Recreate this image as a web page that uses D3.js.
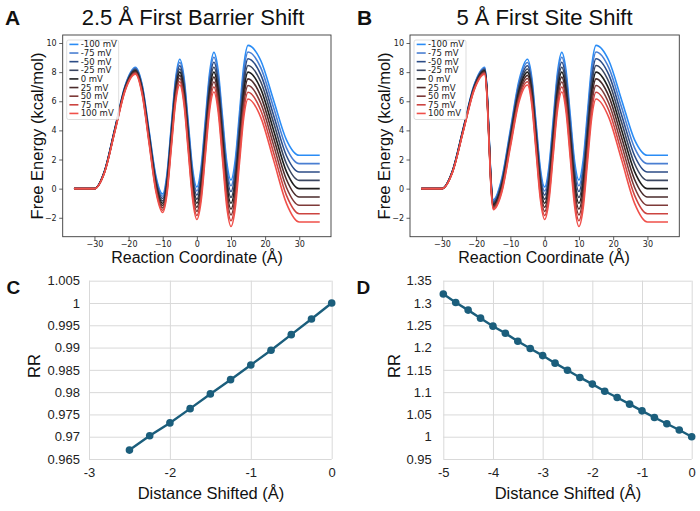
<!DOCTYPE html>
<html><head><meta charset="utf-8">
<script src="https://cdn.jsdelivr.net/npm/d3@7"></script>
<style>body{margin:0;background:#fff}</style></head>
<body><svg id="chart" width="700" height="511"></svg>
<script>
// ---------- data ----------
const voltages = ["-100 mV","-75 mV","-50 mV","-25 mV","0 mV","25 mV","50 mV","75 mV","100 mV"];
const voltageColors = ["#2a8cf5","#4a7fd2","#2c4c86","#3a4660","#1e1e1e","#4a2b2b","#7e3a38","#cc4440","#f0504a"];

const energyTicks = [-2,0,2,4,6,8,10];
const coordTicks = [-30,-20,-10,0,10,20,30];

// Panel A: 2.5 Å first barrier shift
const coordA = [-36,-30,-27,-24,-21,-18,-16,-14,-12,-10,-8.75,-7.5,-6.25,-5,-3.75,-2.5,-1.25,0,1.25,2.5,3.75,5,6.25,7.5,8.75,10,11.25,12.5,13.75,15,18.75,22.5,26.25,30,36];
const barrierM100 = [0,0,1.25,4.17,7.09,8.34,7.11,3.99,0.87,-0.36,1.02,4.26,7.50,8.88,7.62,4.50,1.38,0.12,1.50,4.74,7.98,9.36,8.10,4.98,1.86,0.60,1.98,5.22,8.46,9.84,8.78,6.06,3.35,2.29,2.29];
const barrierM75 = [0,0,1.24,4.14,7.05,8.28,7.03,3.88,0.74,-0.52,0.85,4.07,7.30,8.66,7.39,4.25,1.12,-0.16,1.21,4.43,7.66,9.02,7.75,4.61,1.48,0.20,1.57,4.79,8.02,9.38,8.29,5.55,2.80,1.72,1.72];
const barrierM50 = [0,0,1.22,4.11,7.00,8.22,6.94,3.77,0.60,-0.68,0.67,3.88,7.09,8.44,7.15,4.00,0.85,-0.44,0.91,4.12,7.33,8.68,7.39,4.24,1.09,-0.20,1.15,4.36,7.57,8.92,7.81,5.03,2.26,1.14,1.14];
const barrierM25 = [0,0,1.21,4.08,6.96,8.16,6.86,3.66,0.47,-0.84,0.50,3.69,6.89,8.22,6.92,3.75,0.59,-0.72,0.62,3.81,7.01,8.34,7.04,3.87,0.71,-0.60,0.74,3.93,7.13,8.46,7.32,4.52,1.71,0.57,0.57];
const barrier0 = [0,0,1.19,4.05,6.91,8.10,6.77,3.55,0.33,-1.00,0.32,3.50,6.68,8.00,6.68,3.50,0.32,-1.00,0.32,3.50,6.68,8.00,6.68,3.50,0.32,-1.00,0.32,3.50,6.68,8.00,6.83,4.00,1.17,0,0];
const barrierP25 = [0,0,1.18,4.02,6.87,8.04,6.69,3.44,0.20,-1.16,0.15,3.31,6.48,7.78,6.45,3.25,0.06,-1.28,0.03,3.19,6.36,7.66,6.33,3.13,-0.07,-1.40,-0.10,3.07,6.24,7.54,6.34,3.48,0.63,-0.57,-0.57];
const barrierP50 = [0,0,1.16,3.99,6.82,7.98,6.60,3.33,0.06,-1.32,-0.03,3.12,6.27,7.56,6.21,3.00,-0.21,-1.56,-0.27,2.88,6.03,7.32,5.97,2.76,-0.45,-1.80,-0.51,2.64,5.79,7.08,5.85,2.97,0.08,-1.14,-1.14];
const barrierP75 = [0,0,1.15,3.96,6.78,7.92,6.52,3.22,-0.08,-1.48,-0.21,2.93,6.07,7.34,5.98,2.75,-0.48,-1.84,-0.57,2.57,5.71,6.98,5.62,2.39,-0.84,-2.20,-0.93,2.21,5.35,6.62,5.37,2.45,-0.46,-1.72,-1.72];
const barrierP100 = [0,0,1.13,3.93,6.73,7.86,6.43,3.11,-0.21,-1.64,-0.38,2.74,5.86,7.12,5.74,2.50,-0.74,-2.12,-0.86,2.26,5.38,6.64,5.26,2.02,-1.22,-2.60,-1.34,1.78,4.90,6.16,4.88,1.94,-1.01,-2.29,-2.29];

// Panel B: 5 Å first site shift
const coordB = [-36,-30,-26.875,-23.75,-20.625,-17.5,-16.875,-16.25,-15.625,-15,-12.5,-10,-7.5,-5,-3.75,-2.5,-1.25,0,1.25,2.5,3.75,5,6.25,7.5,8.75,10,11.25,12.5,13.75,15,18.75,22.5,26.25,30,36];
const siteM100 = [0,0,1.25,4.17,7.09,8.34,7.01,3.79,0.56,-0.76,0.71,4.05,7.41,8.88,7.62,4.50,1.38,0.12,1.50,4.74,7.98,9.36,8.10,4.98,1.86,0.60,1.98,5.22,8.46,9.84,8.78,6.06,3.35,2.29,2.29];
const siteM75 = [0,0,1.24,4.14,7.05,8.28,6.95,3.72,0.48,-0.85,0.59,3.90,7.23,8.66,7.39,4.25,1.12,-0.16,1.21,4.43,7.66,9.02,7.75,4.61,1.48,0.20,1.57,4.79,8.02,9.38,8.29,5.55,2.80,1.72,1.72];
const siteM50 = [0,0,1.22,4.11,7.00,8.22,6.88,3.64,0.41,-0.93,0.47,3.75,7.04,8.44,7.15,4.00,0.85,-0.44,0.91,4.12,7.33,8.68,7.39,4.24,1.09,-0.20,1.15,4.36,7.57,8.92,7.81,5.03,2.26,1.14,1.14];
const siteM25 = [0,0,1.21,4.08,6.96,8.16,6.82,3.57,0.33,-1.02,0.35,3.60,6.86,8.22,6.92,3.75,0.59,-0.72,0.62,3.81,7.01,8.34,7.04,3.87,0.71,-0.60,0.74,3.93,7.13,8.46,7.32,4.52,1.71,0.57,0.57];
const site0 = [0,0,1.19,4.05,6.91,8.10,6.75,3.50,0.25,-1.10,0.23,3.45,6.67,8.00,6.68,3.50,0.32,-1.00,0.32,3.50,6.68,8.00,6.68,3.50,0.32,-1.00,0.32,3.50,6.68,8.00,6.83,4.00,1.17,0,0];
const siteP25 = [0,0,1.18,4.02,6.87,8.04,6.68,3.43,0.17,-1.19,0.11,3.30,6.49,7.78,6.45,3.25,0.06,-1.28,0.03,3.19,6.36,7.66,6.33,3.13,-0.07,-1.40,-0.10,3.07,6.24,7.54,6.34,3.48,0.63,-0.57,-0.57];
const siteP50 = [0,0,1.16,3.99,6.82,7.98,6.62,3.36,0.09,-1.27,-0.01,3.15,6.30,7.56,6.21,3.00,-0.21,-1.56,-0.27,2.88,6.03,7.32,5.97,2.76,-0.45,-1.80,-0.51,2.64,5.79,7.08,5.85,2.97,0.08,-1.14,-1.14];
const siteP75 = [0,0,1.15,3.96,6.78,7.92,6.55,3.28,0.02,-1.36,-0.13,3.00,6.12,7.34,5.98,2.75,-0.48,-1.84,-0.57,2.57,5.71,6.98,5.62,2.39,-0.84,-2.20,-0.93,2.21,5.35,6.62,5.37,2.45,-0.46,-1.72,-1.72];
const siteP100 = [0,0,1.13,3.93,6.73,7.86,6.49,3.21,-0.06,-1.44,-0.25,2.85,5.93,7.12,5.74,2.50,-0.74,-2.12,-0.86,2.26,5.38,6.64,5.26,2.02,-1.22,-2.60,-1.34,1.78,4.90,6.16,4.88,1.94,-1.01,-2.29,-2.29];

// Panel C
const shiftC = [-2.5,-2.25,-2,-1.75,-1.5,-1.25,-1,-0.75,-0.5,-0.25,0];
const rrC = [0.9670,0.9702,0.9731,0.9763,0.9796,0.9828,0.9861,0.9894,0.9929,0.9964,1.0];
const shiftTicksC = [-3,-2,-1,0];
const rrTicksC = [0.965,0.97,0.975,0.98,0.985,0.99,0.995,1,1.005];

// Panel D
const shiftD = [-5,-4.75,-4.5,-4.25,-4,-3.75,-3.5,-3.25,-3,-2.75,-2.5,-2.25,-2,-1.75,-1.5,-1.25,-1,-0.75,-0.5,-0.25,0];
const rrD = [1.320,1.301,1.284,1.266,1.248,1.232,1.214,1.198,1.182,1.165,1.149,1.133,1.118,1.102,1.088,1.073,1.058,1.043,1.029,1.015,1.0];
const shiftTicksD = [-5,-4,-3,-2,-1,0];
const rrTicksD = [0.95,1,1.05,1.1,1.15,1.2,1.25,1.3,1.35];

// ---------- drawing ----------
const svg = d3.select("#chart");
svg.append("rect").attr("width",700).attr("height",511).attr("fill","#fff");
const SANS = "'Liberation Sans', Arial, Helvetica, sans-serif";
const MPL = "'DejaVu Sans', sans-serif";

function energyPanel(opt) {
  const {x0, x1, coords, series, title, titleX, letter, letterX, ylabX, xlabX} = opt;
  const top = 35, bottom = 236.7;
  const x = d3.scaleLinear().domain([-39.3, 39.3]).range([x0, x1]);
  const y = d3.scaleLinear().domain([-3.3, 10.55]).range([bottom, top]);
  const g = svg.append("g");
  const line = d3.line().x((d,i) => x(coords[i])).y(d => y(d)).curve(d3.curveMonotoneX);
  series.forEach((s,k) => {
    g.append("path").attr("d", line(s)).attr("fill","none")
      .attr("stroke", voltageColors[k]).attr("stroke-width",1.6);
  });
  g.append("rect").attr("x",x0).attr("y",top).attr("width",x1-x0).attr("height",bottom-top)
    .attr("fill","none").attr("stroke","#3a3a3a").attr("stroke-width",0.9);
  const fmt = d => d < 0 ? "\u2212" + Math.abs(d) : String(d);
  const ax = g.append("g").attr("transform",`translate(0,${bottom})`)
    .call(d3.axisBottom(x).tickValues(coordTicks).tickSize(3.5).tickPadding(1.5).tickFormat(fmt));
  const ay = g.append("g").attr("transform",`translate(${x0},0)`)
    .call(d3.axisLeft(y).tickValues(energyTicks).tickSize(3.5).tickPadding(2.5).tickFormat(fmt));
  [ax, ay].forEach(a => {
    a.select(".domain").remove();
    a.selectAll("line").attr("stroke","#3a3a3a").attr("stroke-width",0.8);
    a.selectAll("text").attr("font-family",MPL).attr("font-size",8).attr("fill","#222");
  });
  // legend
  const lg = g.append("g");
  const lx = x0 + 4, ly = 40;
  lg.append("rect").attr("x",lx).attr("y",ly).attr("width",52).attr("height",79.5).attr("rx",2)
    .attr("fill","#fff").attr("fill-opacity",0.85).attr("stroke","#d4d4d4").attr("stroke-width",0.8);
  voltages.forEach((v,k) => {
    const yy = 44.4 + k*8.63;
    lg.append("line").attr("x1",lx+2.7).attr("x2",lx+11.7).attr("y1",yy).attr("y2",yy)
      .attr("stroke",voltageColors[k]).attr("stroke-width",1.6);
    lg.append("text").attr("x",lx+14).attr("y",yy).attr("dy","0.35em")
      .attr("font-family",MPL).attr("font-size",8.5).attr("fill","#222").text(v);
  });
  // titles and labels
  svg.append("text").attr("x",titleX).attr("y",25).attr("text-anchor","middle")
    .attr("font-family",SANS).attr("font-size",22).attr("fill","#111").text(title);
  svg.append("text").attr("x",letterX).attr("y",25).attr("font-family",SANS)
    .attr("font-weight","bold").attr("font-size",21).attr("fill","#111").text(letter);
  svg.append("text").attr("transform",`translate(${ylabX},136) rotate(-90)`).attr("text-anchor","middle")
    .attr("font-family",SANS).attr("font-size",16.5).attr("fill","#111").text("Free Energy (kcal/mol)");
  svg.append("text").attr("x",xlabX).attr("y",262.5).attr("text-anchor","middle")
    .attr("font-family",SANS).attr("font-size",16).attr("fill","#111").text("Reaction Coordinate (Å)");
}

energyPanel({x0:62.7, x1:331, coords:coordA,
  series:[barrierM100,barrierM75,barrierM50,barrierM25,barrier0,barrierP25,barrierP50,barrierP75,barrierP100],
  title:"2.5 Å First Barrier Shift", titleX:193, letter:"A", letterX:5, ylabX:43, xlabX:197});
energyPanel({x0:410, x1:679.3, coords:coordB,
  series:[siteM100,siteM75,siteM50,siteM25,site0,siteP25,siteP50,siteP75,siteP100],
  title:"5 Å First Site Shift", titleX:544.5, letter:"B", letterX:357, ylabX:390, xlabX:544});

function rrPanel(opt) {
  const {x0, x1, xs, ys, xTicks, yTicks, yFmt, letter, letterX, ylabX, xlabX, ypad} = opt;
  const top = 280.7, bottom = 459;
  const x = d3.scaleLinear().domain([xTicks[0], xTicks[xTicks.length-1]]).range([x0, x1]);
  const y = d3.scaleLinear().domain([yTicks[0], yTicks[yTicks.length-1]]).range([bottom, top]);
  const g = svg.append("g");
  const ax = g.append("g").attr("transform",`translate(0,${bottom})`)
    .call(d3.axisBottom(x).tickValues(xTicks).tickSize(-(bottom-top)).tickPadding(9).tickFormat(d => String(d)));
  const ay = g.append("g").attr("transform",`translate(${x0},0)`)
    .call(d3.axisLeft(y).tickValues(yTicks).tickSize(-(x1-x0)).tickPadding(ypad).tickFormat(yFmt));
  [ax, ay].forEach(a => {
    a.select(".domain").remove();
    a.selectAll("line").attr("stroke","#d9d9d9").attr("stroke-width",1);
    a.selectAll("text").attr("font-family",SANS).attr("font-size",13).attr("fill","#222");
  });
  const line = d3.line().x((d,i) => x(xs[i])).y(d => y(d));
  g.append("path").attr("d", line(ys)).attr("fill","none").attr("stroke","#1b5e7c").attr("stroke-width",2.4);
  g.selectAll("circle.pt").data(ys).enter().append("circle")
    .attr("cx",(d,i) => x(xs[i])).attr("cy", d => y(d)).attr("r",3.8).attr("fill","#1b5e7c");
  svg.append("text").attr("x",letterX).attr("y",293.5).attr("font-family",SANS)
    .attr("font-weight","bold").attr("font-size",19).attr("fill","#111").text(letter);
  svg.append("text").attr("transform",`translate(${ylabX},366) rotate(-90)`).attr("text-anchor","middle")
    .attr("font-family",SANS).attr("font-size",16.5).attr("fill","#111").text("RR");
  svg.append("text").attr("x",xlabX).attr("y",498.5).attr("text-anchor","middle")
    .attr("font-family",SANS).attr("font-size",16.5).attr("fill","#111").text("Distance Shifted (Å)");
}

rrPanel({x0:89, x1:331.7, xs:shiftC, ys:rrC, xTicks:shiftTicksC, yTicks:rrTicksC,
  yFmt: d => String(+d.toFixed(3)), letter:"C", letterX:6.5, ylabX:40, xlabX:211, ypad:9});
rrPanel({x0:443.3, x1:691.7, xs:shiftD, ys:rrD, xTicks:shiftTicksD, yTicks:rrTicksD,
  yFmt: d => String(+d.toFixed(2)), letter:"D", letterX:356.5, ylabX:400, xlabX:568, ypad:11.5});
</script>
</body></html>
